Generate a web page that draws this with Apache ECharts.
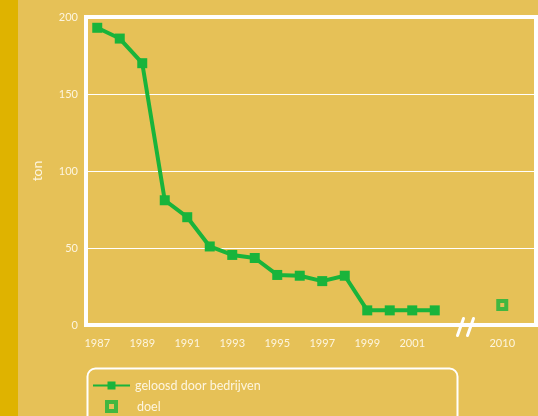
<!DOCTYPE html>
<html>
<head>
<meta charset="utf-8">
<script src="https://cdn.jsdelivr.net/npm/echarts@6/dist/echarts.min.js"></script>
<style>
  html, body { margin: 0; padding: 0; }
  body { background: #e6c157; }
  #chart { width: 538px; height: 416px; }
</style>
</head>
<body>
<div id="chart"></div>
<script>
// categorieën: 1987..2002, dan een onderbreking, dan 2010
const years = ["1987", "1988", "1989", "1990", "1991", "1992", "1993", "1994",
  "1995", "1996", "1997", "1998", "1999", "2000", "2001", "2002", "", "", "2010", ""];
const tickLabels = ["1987", "1989", "1991", "1993", "1995", "1997", "1999", "2001", "2010"];
const geloosd = [193, 186, 170, 81, 70, 51, 45.5, 43.5, 32.5, 32, 28.5, 32, 9.5, 9.5, 9.5, 9.5];
const doel = [["2010", 13]];
const yTicks = [0, 50, 100, 150, 200];

const bg = "#e6c157";
const green = "#19b43b";
const txt = "#fdf5df";

const chart = echarts.init(document.getElementById("chart"));

chart.setOption({
  backgroundColor: bg,
  animation: false,
  textStyle: { fontFamily: "Lato" },
  grid: {
    left: 86, right: 2, top: 17, bottom: 91,
    show: true, borderColor: "#fff", borderWidth: 4,
  },
  xAxis: {
    type: "category",
    data: years,
    boundaryGap: true,
    axisLine: { show: false },
    axisTick: { show: false },
    axisLabel: {
      interval: 0,
      color: txt,
      fontSize: 11,
      margin: 13,
      formatter: (v) => (tickLabels.includes(v) ? v : ""),
    },
  },
  yAxis: {
    type: "value",
    min: yTicks[0],
    max: yTicks[yTicks.length - 1],
    interval: 50,
    name: "ton",
    nameLocation: "middle",
    nameGap: 42,
    nameTextStyle: { color: txt, fontSize: 14 },
    axisLine: { show: false },
    axisTick: { show: false },
    axisLabel: { color: txt, fontSize: 11, margin: 8 },
    splitLine: { lineStyle: { color: "#fff", width: 1 } },
  },
  legend: [
    {
      left: 87, top: 374,
      itemWidth: 37, itemHeight: 10,
      textStyle: { color: txt, fontSize: 12.5 },
      data: ["geloosd door bedrijven"],
    },
    {
      left: 100, top: 395,
      itemWidth: 9, itemHeight: 9,
      itemStyle: { borderWidth: 4 },
      textStyle: { color: txt, fontSize: 12.5, padding: [0, 0, 0, 16] },
      data: ["doel"],
    },
  ],
  graphic: [
    // kader rond de legenda
    {
      type: "rect", left: 85, top: 366, z: 0,
      shape: { width: 370, height: 70, r: 8 },
      style: { fill: "none", stroke: "#fff", lineWidth: 2 },
    },
    // donkere strook links
    {
      type: "rect", left: 0, top: 0, z: -1,
      shape: { width: 18, height: 416 },
      style: { fill: "#dfb300" },
    },
    // onderbrekingsteken op de x-as
    {
      type: "group", left: 455, top: 316, z: 10,
      children: [
        { type: "line", shape: { x1: 6, y1: 0, x2: 0, y2: 17 },
          style: { stroke: "#fff", lineWidth: 3, lineCap: "round" } },
        { type: "line", shape: { x1: 16, y1: 0, x2: 10, y2: 17 },
          style: { stroke: "#fff", lineWidth: 3, lineCap: "round" } },
      ],
    },
  ],
  series: [
    {
      name: "geloosd door bedrijven",
      type: "line",
      data: geloosd,
      symbol: "square",
      symbolSize: 10,
      lineStyle: { color: green, width: 4 },
      itemStyle: { color: green },
      z: 5,
    },
    {
      name: "doel",
      type: "scatter",
      data: doel,
      symbol: "square",
      symbolSize: 8,
      itemStyle: { color: bg, borderColor: green, borderWidth: 4 },
      z: 5,
    },
  ],
});
</script>
</body>
</html>
